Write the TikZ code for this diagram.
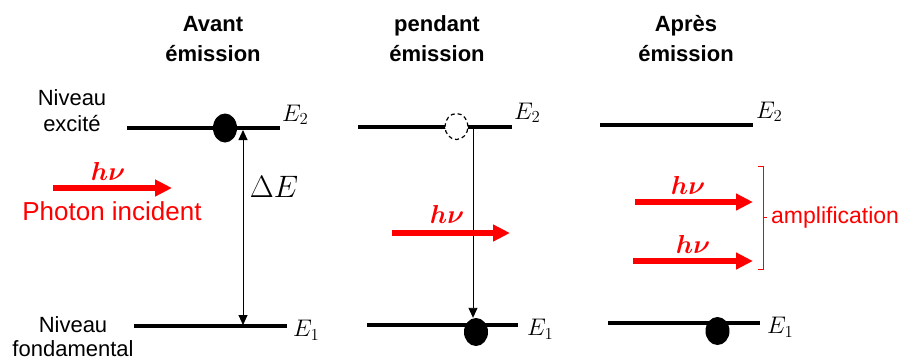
\documentclass[tikz,border=0pt]{standalone}
\usepackage{fix-cm}
\usepackage{fontspec}
\setmainfont{Liberation Sans}
\usepackage{amsmath}
\usepackage{bm}
\usetikzlibrary{arrows.meta}
\usetikzlibrary{shapes.geometric}
\usetikzlibrary{calc}

\begin{document}
\begin{tikzpicture}[x=1pt,y=-1pt,
  level/.style={line width=4pt},
  photon/.style={red,line width=6pt,-{Triangle[length=17pt,width=16pt]}},
  thinarrow/.style={line width=0.9pt,-{Triangle[length=10pt,width=9pt]}},
  electron/.style={ellipse,fill=black,inner sep=0pt,minimum width=24pt,minimum height=29pt},
  hole/.style={ellipse,draw,dash pattern=on 4pt off 3pt,line width=1.2pt,fill=white,inner sep=0pt,minimum width=23pt,minimum height=26pt},
  title/.style={font=\bfseries\fontsize{22}{30}\selectfont,align=center},
  side/.style={font=\fontsize{22}{26}\selectfont,align=center},
  elabel/.style={font=\fontsize{24}{28}\selectfont,inner sep=0pt},
  hnu/.style={red,font=\fontsize{26}{30}\selectfont,inner sep=0pt}]

  \useasboundingbox (0,0) rectangle (905,360);

  % titles
  \node[title] (tavant) at (213,39) {Avant\\émission};
  \node[title] (tpendant) at (437,39) {pendant\\émission};
  \node[title] (tapres) at (686,39) {Après\\émission};

  \node[side] (nexc) at (72,111) {Niveau\\excité};
  \node[side,font=\fontsize{22}{24}\selectfont] (nfond) at (73,337) {Niveau\\fondamental};

  % avant emission
  \coordinate (aE2l) at (127,128);
  \coordinate (aE2r) at (280,128);
  \coordinate (aE1l) at (134,326);
  \coordinate (aE1r) at (287,326);
  \draw[level] (aE2l) -- (aE2r);
  \draw[level] (aE1l) -- (aE1r);
  \node[electron] (elecA) at (225,128) {};
  \node[elabel,anchor=base west] (aE2) at (282,121) {$E_2$};
  \node[elabel,anchor=west] (aE1) at (293,330) {$E_1$};

  \coordinate (dEtop) at (243,130);
  \coordinate (dEbot) at (243,325);
  \draw[line width=0.9pt,{Triangle[length=10pt,width=9pt]}-{Triangle[length=10pt,width=9pt]}] (dEbot) -- (dEtop);
  \node[font=\fontsize{31}{36}\selectfont,inner sep=0pt] (dE) at (274,187) {$\Delta E$};

  \coordinate (inA) at (53,188);
  \coordinate (inB) at (172,188);
  \draw[photon] (inA) -- (inB);
  \node[hnu] (hnuA) at (108,171) {$\bm{h\nu}$};
  \node[red,font=\fontsize{26}{30}\selectfont,inner sep=0pt] (incid) at (112,211) {Photon incident};

  % pendant emission
  \coordinate (pE2l) at (358,127);
  \coordinate (pE2r) at (512,127);
  \coordinate (pE1l) at (367,325);
  \coordinate (pE1r) at (518,325);
  \draw[level] (pE2l) -- (pE2r);
  \draw[level] (pE1l) -- (pE1r);
  \node[hole] (holeB) at (456.5,126.5) {};
  \node[electron,minimum height=28pt] (elecB) at (476,332) {};
  \node[elabel,anchor=base west] (pE2) at (514,119) {$E_2$};
  \node[elabel,anchor=west] (pE1) at (527,329) {$E_1$};

  \coordinate (fall) at (473,128);
  \draw[thinarrow] (fall) -- (fall |- elecB.north);

  \coordinate (emA) at (392,233);
  \coordinate (emB) at (510,233);
  \draw[photon] (emA) -- (emB);
  \node[hnu] (hnuB) at (447,214) {$\bm{h\nu}$};

  % apres emission
  \coordinate (rE2l) at (600,125);
  \coordinate (rE2r) at (753,125);
  \coordinate (rE1l) at (608,323);
  \coordinate (rE1r) at (760,323);
  \draw[level] (rE2l) -- (rE2r);
  \draw[level] (rE1l) -- (rE1r);
  \node[electron,minimum height=28pt] (elecC) at (717.5,331) {};
  \node[elabel,anchor=base west] (rE2) at (756,118) {$E_2$};
  \node[elabel,anchor=west] (rE1) at (767,327) {$E_1$};

  \coordinate (ampA) at (635,202);
  \coordinate (ampB) at (753,202);
  \coordinate (ampC) at (633,261);
  \coordinate (ampD) at (753,261);
  \draw[photon] (ampA) -- (ampB);
  \draw[photon] (ampC) -- (ampD);
  \node[hnu] (hnuC) at (688,185) {$\bm{h\nu}$};
  \node[hnu] (hnuD) at (693,244) {$\bm{h\nu}$};

  \coordinate (brTop) at (763,166);
  \coordinate (brBot) at (763,269);
  \draw[red,line width=0.9pt] ([xshift=-5pt]brTop) -- (brTop) -- (brBot) -- ([xshift=-5pt]brBot);
  \draw[red,line width=0.9pt] ($(brTop)!0.5!(brBot)$) -- ++(4,0) coordinate (brMid);
  \node[red,font=\fontsize{23}{27}\selectfont,anchor=west,inner sep=0pt] (ampl) at (771,218) {amplification};

\end{tikzpicture}
\end{document}
